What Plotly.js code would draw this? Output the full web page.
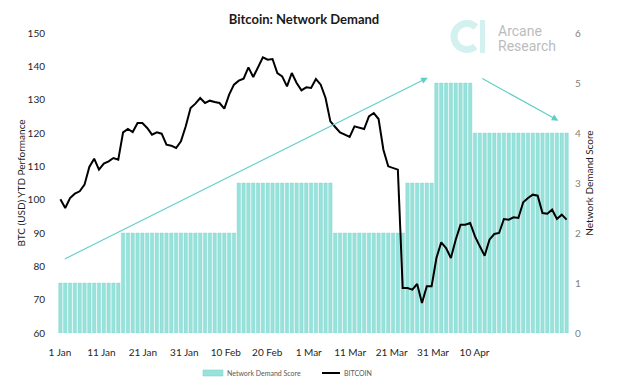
<!DOCTYPE html>
<html>
<head>
<meta charset="utf-8">
<script src="https://cdn.plot.ly/plotly-3.0.1.min.js"></script>
<style>html,body{margin:0;padding:0;background:#fff;}#chart{width:631px;height:387px;}</style>
</head>
<body>
<div id="chart"></div>
<script>
// Daily BTC YTD performance (1 Jan = 100)
const bitcoin = [
  100.1, 97.5, 100.5, 101.8, 102.5, 104.5, 109.8, 112.3, 109.0, 110.8,
  111.5, 112.5, 112.0, 120.2, 121.2, 120.3, 123.0, 123.0, 121.5, 119.5,
  120.2, 119.8, 116.5, 116.2, 115.5, 117.5, 122.0, 127.5, 128.8, 130.5,
  129.0, 129.7, 129.3, 129.0, 127.3, 131.5, 134.5, 135.7, 136.3, 139.7,
  136.8, 140.0, 142.7, 142.0, 142.2, 138.0, 137.0, 134.0, 138.0, 135.0,
  132.8, 133.7, 133.5, 136.2, 134.5, 130.5, 123.5, 121.8, 120.2, 119.5,
  118.8, 122.0, 121.5, 121.2, 125.0, 126.0, 124.2, 115.0, 110.0, 109.5,
  109.0, 73.5, 73.5, 73.0, 74.7, 69.0, 74.0, 74.0, 82.5, 87.2,
  85.5, 82.5, 88.0, 92.5, 92.5, 93.0, 89.0, 86.0, 83.2, 88.0,
  89.7, 90.0, 94.2, 94.0, 94.7, 94.5, 99.2, 100.5, 101.5, 101.2,
  96.0, 95.8, 97.0, 94.2, 95.5, 94.0
];
// Network demand score per day
const demandScore = [
  1,1,1,1,1,1,1,1,1,1,1,1,1,
  2,2,2,2,2,2,2,2,2,2,2,2,2,2,2,2,2,2,2,2,2,2,2,2,
  3,3,3,3,3,3,3,3,3,3,3,3,3,3,3,3,3,3,3,3,
  2,2,2,2,2,2,2,2,2,2,2,2,2,2,2,
  3,3,3,3,3,3,
  5,5,5,5,5,5,5,5,
  4,4,4,4,4,4,4,4,4,4,4,4,4,4,4,4,4,4,4,4
];
const tickLabels = ["1 Jan","11 Jan","21 Jan","31 Jan","10 Feb","20 Feb","1 Mar","11 Mar","21 Mar","31 Mar","10 Apr"];
const leftTicks = [60,70,80,90,100,110,120,130,140,150];
const rightTicks = [0,1,2,3,4,5,6];

const idx = bitcoin.map((_, i) => i);
const tickPos = tickLabels.map((_, k) => k * 8.6 - 0.1);

const teal = '#97e2db';
const arrowTeal = '#5fcfc6';

// pixel -> paper helpers for decorations
const L = 58, R = 62, T = 33, B = 54, W = 631, H = 387;
const pw = W - L - R, ph = H - T - B;
const px = x => (x - L) / pw;
const py = y => (H - B - y) / ph;

// logo "C" as polyline
let cPath = '';
const cx = 467, cy = 36.5, rad = 13;
for (let a = 46; a <= 314; a += 8) {
  const t = a * Math.PI / 180;
  const x = cx + rad * Math.cos(t), y = cy - rad * Math.sin(t);
  cPath += (cPath ? ' L ' : 'M ') + px(x).toFixed(4) + ',' + py(y).toFixed(4);
}

const traces = [
  {
    type: 'bar', x: idx, y: demandScore, name: 'Network Demand Score',
    marker: {color: teal, line: {color: '#80d7cf', width: 0.4}},
    yaxis: 'y', hoverinfo: 'skip'
  },
  {
    type: 'scatter', mode: 'lines', x: idx, y: bitcoin, name: 'BITCOIN',
    line: {color: '#000000', width: 2}, yaxis: 'y2'
  }
];

const tickFont = {family: 'Lato, sans-serif', size: 10, color: '#262626'};

const layout = {
  width: W, height: H,
  margin: {l: L, r: R, t: T, b: B, pad: 0},
  paper_bgcolor: '#ffffff', plot_bgcolor: '#ffffff',
  showlegend: false,
  bargap: 0.28,
  title: {
    text: 'Bitcoin: Network Demand',
    font: {family: 'Lato, sans-serif', size: 13, weight: 'bold', color: '#1a1a1a'},
    xref: 'paper', x: px(304), xanchor: 'center',
    yref: 'container', y: 1 - 19 / H, yanchor: 'middle'
  },
  xaxis: {
    range: [-0.5, bitcoin.length - 0.5],
    tickvals: tickPos, ticktext: tickLabels,
    showgrid: false, zeroline: false, showline: false,
    ticks: 'outside', ticklen: 10, tickcolor: 'rgba(0,0,0,0)',
    tickfont: tickFont, fixedrange: true
  },
  yaxis: {
    side: 'right', range: [0, 6], tickvals: rightTicks,
    showgrid: false, zeroline: false, showline: false,
    ticks: 'outside', ticklen: 3, tickcolor: 'rgba(0,0,0,0)',
    tickfont: {family: 'Lato, sans-serif', size: 10, color: '#7f7f7f'},
    title: {text: 'Network Demand Score', font: {family: 'Lato, sans-serif', size: 10, color: '#1a1a1a'}, standoff: 5}
  },
  yaxis2: {
    side: 'left', overlaying: 'y', range: [60, 150], tickvals: leftTicks,
    showgrid: false, zeroline: false, showline: false,
    ticks: 'outside', ticklen: 10, tickcolor: 'rgba(0,0,0,0)',
    tickfont: tickFont,
    title: {text: 'BTC (USD) YTD Performance', font: {family: 'Lato, sans-serif', size: 10, color: '#1a1a1a'}, standoff: 0}
  },
  shapes: [
    {type: 'path', xref: 'paper', yref: 'paper', path: cPath, line: {color: '#d3f1ee', width: 7}},
    {type: 'rect', xref: 'paper', yref: 'paper', x0: px(480), x1: px(485), y0: py(53), y1: py(20), fillcolor: '#d3f1ee', line: {width: 0}},
    {type: 'rect', xref: 'paper', yref: 'paper', x0: px(203), x1: px(223), y0: py(376), y1: py(370), fillcolor: teal, line: {color: '#80d7cf', width: 0.6}},
    {type: 'line', xref: 'paper', yref: 'paper', x0: px(322), x1: px(340), y0: py(373), y1: py(373), line: {color: '#000', width: 2}}
  ],
  annotations: [
    {xref: 'x', yref: 'y2', axref: 'x', ayref: 'y2', x: 76.2, y: 136.6, ax: 0.6, ay: 82.0,
     text: '', showarrow: true, arrowhead: 2, arrowsize: 1.2, arrowwidth: 1.1, arrowcolor: arrowTeal, standoff: 0},
    {xref: 'x', yref: 'y2', axref: 'x', ayref: 'y2', x: 103.3, y: 123.7, ax: 87.2, ay: 136.6,
     text: '', showarrow: true, arrowhead: 2, arrowsize: 1.2, arrowwidth: 1.1, arrowcolor: arrowTeal, standoff: 0},
    {xref: 'paper', yref: 'paper', x: px(496), y: py(31), xanchor: 'left', yanchor: 'middle', showarrow: false,
     text: 'Arcane', font: {family: 'Roboto, sans-serif', size: 14, color: '#bcbcbc'}},
    {xref: 'paper', yref: 'paper', x: px(496), y: py(46), xanchor: 'left', yanchor: 'middle', showarrow: false,
     text: 'Research', font: {family: 'Roboto, sans-serif', size: 14, color: '#bcbcbc'}},
    {xref: 'paper', yref: 'paper', x: px(225), y: py(373), xanchor: 'left', yanchor: 'middle', showarrow: false,
     text: 'Network Demand Score', font: {family: 'Lato, sans-serif', size: 7, color: '#595959'}},
    {xref: 'paper', yref: 'paper', x: px(342), y: py(373), xanchor: 'left', yanchor: 'middle', showarrow: false,
     text: 'BITCOIN', font: {family: 'Lato, sans-serif', size: 7, color: '#595959'}}
  ]
};

Plotly.newPlot('chart', traces, layout, {displayModeBar: false, staticPlot: true});
</script>
</body>
</html>
